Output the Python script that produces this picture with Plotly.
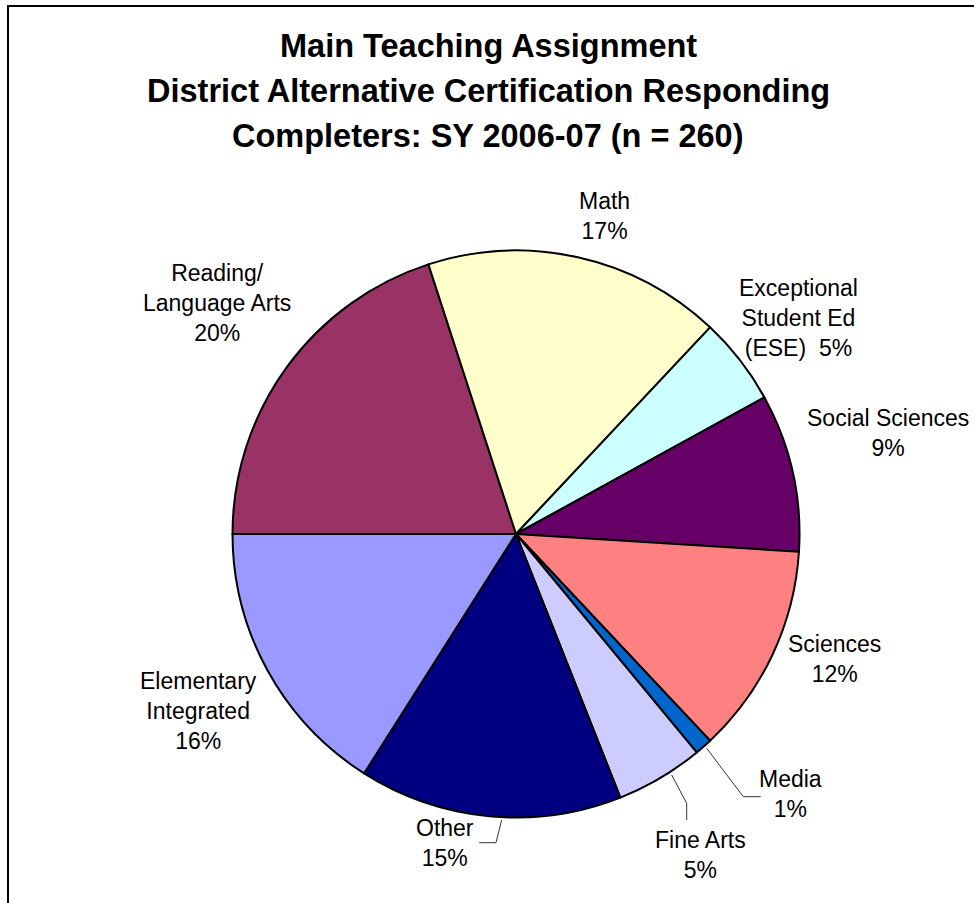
import plotly.graph_objects as go

# Slice data (percent of responding completers), drawn clockwise
categories = [
    "Reading/ Language Arts",
    "Math",
    "Exceptional Student Ed (ESE)",
    "Social Sciences",
    "Sciences",
    "Media",
    "Fine Arts",
    "Other",
    "Elementary Integrated",
]
shares = [20, 17, 5, 9, 12, 1, 5, 15, 16]

# Label text as printed next to each slice
label_text = [
    "Reading/<br>Language Arts",
    "Math",
    "Exceptional<br>Student Ed<br>(ESE)",
    "Social Sciences",
    "Sciences",
    "Media",
    "Fine Arts",
    "Other",
    "Elementary<br>Integrated",
]
label_joiner = ["<br>", "<br>", "\u00a0 ", "<br>", "<br>", "<br>", "<br>", "<br>", "<br>"]

title_lines = [
    "Main Teaching Assignment",
    "District Alternative Certification Responding",
    "Completers: SY 2006-07 (n = 260)",
]

colors = ["#993366", "#FFFFCC", "#CCFFFF", "#660066", "#FF8080",
          "#0066CC", "#CCCCFF", "#000080", "#9999FF"]

# ---- layout helpers (pixel -> paper) ----
W, H = 974, 903


def px(x):
    return x / W


def py(y):
    return 1 - y / H


CX, CY, R = 516, 534, 283.5
FONT = "Liberation Sans, Arial, sans-serif"

fig = go.Figure(
    go.Pie(
        labels=categories,
        values=shares,
        sort=False,
        direction="clockwise",
        rotation=-90,
        textinfo="none",
        hoverinfo="label+percent",
        marker=dict(colors=colors, line=dict(color="#000000", width=2)),
        domain=dict(x=[px(CX - R), px(CX + R)], y=[py(CY + R), py(CY - R)]),
        showlegend=False,
    )
)

# Label block centres in pixels
label_pos = [
    (217, 303),
    (604, 216),
    (798, 318),
    (888, 433),
    (834, 659),
    (790, 794),
    (700, 855),
    (445, 843),
    (198, 711),
]

total = sum(shares)
annotations = []
for txt, join, v, (lx, ly) in zip(label_text, label_joiner, shares, label_pos):
    pct = f"{round(100 * v / total)}%"
    annotations.append(dict(
        x=px(lx), y=py(ly), xref="paper", yref="paper",
        text=txt + join + pct, showarrow=False,
        xanchor="center", yanchor="middle", align="center",
        font=dict(family=FONT, size=23, color="#000000"),
    ))

for i, line in enumerate(title_lines):
    annotations.append(dict(
        x=px(488), y=py(46 + 45 * i), xref="paper", yref="paper",
        text=f"<b>{line}</b>", showarrow=False,
        xanchor="center", yanchor="middle",
        font=dict(family=FONT, size=32.5, color="#000000"),
    ))

# Leader lines for the small slices
leaders = [
    [(706.7, 748.3), (743.3, 796.7), (760.7, 796.7)],
    [(671.7, 775.0), (686.7, 803.3), (686.7, 820.0)],
    [(501.7, 820.0), (496.0, 842.7), (479.3, 842.7)],
]
shapes = []
for pts in leaders:
    path = "M " + " L ".join(f"{px(x):.5f},{py(y):.5f}" for x, y in pts)
    shapes.append(dict(type="path", path=path, xref="paper", yref="paper",
                       line=dict(color="#333333", width=1)))

# Chart-area frame
shapes.append(dict(type="rect", xref="paper", yref="paper",
                   x0=px(8), y0=-0.05, x1=1.05, y1=py(6),
                   line=dict(color="#000000", width=2), fillcolor="rgba(0,0,0,0)"))

fig.update_layout(
    width=W, height=H,
    margin=dict(l=0, r=0, t=0, b=0),
    paper_bgcolor="#FFFFFF",
    plot_bgcolor="#FFFFFF",
    annotations=annotations,
    shapes=shapes,
)

fig.write_html("out.html")
